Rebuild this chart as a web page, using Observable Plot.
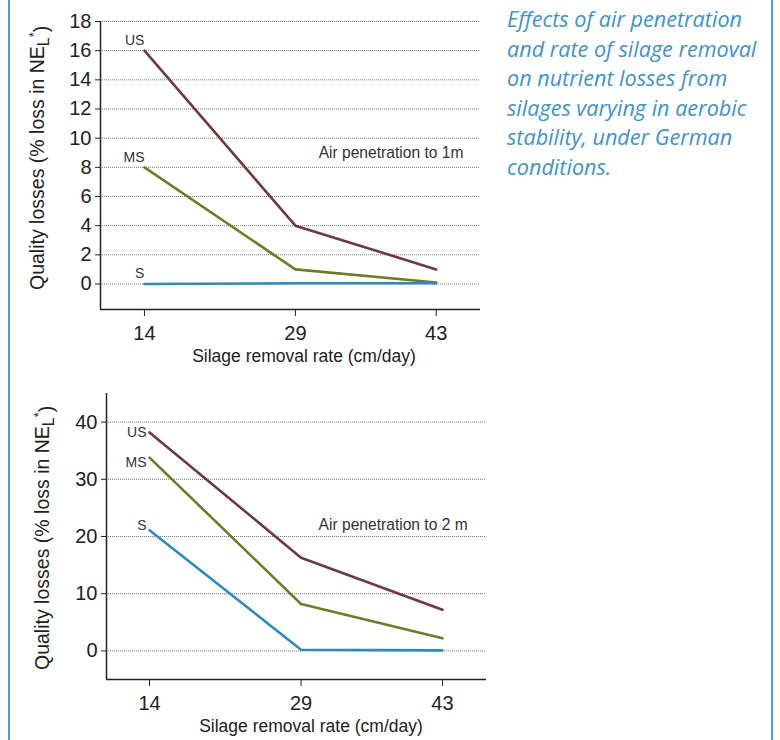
<!DOCTYPE html>
<html><head><meta charset="utf-8">
<script src="https://cdn.jsdelivr.net/npm/d3@7"></script>
<script src="https://cdn.jsdelivr.net/npm/@observablehq/plot@0.6"></script>
<style>
body{margin:0;background:#fff;}
#wrap{position:relative;width:780px;height:740px;overflow:hidden;font-family:"Liberation Sans",Arial,sans-serif;}
.border{position:absolute;top:0;bottom:0;width:2px;background:#4a9fd4;}
#title{position:absolute;left:507px;top:4px;width:266px;font-family:"Open Sans",Lato,sans-serif;font-style:italic;font-size:21.6px;line-height:29.6px;color:#3f93c6;}
#c1{position:absolute;left:0;top:0}
#c2{position:absolute;left:0;top:375px}
</style></head><body>
<div id="wrap">
<div class="border" style="left:8px"></div>
<div class="border" style="left:771px"></div>
<div id="title">Effects of air penetration<br>and rate of silage removal<br>on nutrient losses from<br>silages varying in aerobic<br>stability, under German<br>conditions.</div>
<div id="c1"></div><div id="c2"></div>
</div>
<script>
// ---- data ----
const rates = [14, 29, 43];
const seriesNames = ["US", "MS", "S"];
const seriesColors = ["#6e3a40", "#6c7d27", "#2c8bbd"];
// Air penetration to 1 m
const top_US = [16, 4, 1];
const top_MS = [8, 1, 0.1];
const top_S  = [0, 0.05, 0.05];
const topYTicks = [0, 2, 4, 6, 8, 10, 12, 14, 16, 18];
const topNote = "Air penetration to 1m";
// Air penetration to 2 m
const bot_US = [38.2, 16.3, 7.2];
const bot_MS = [33.8, 8.2, 2.2];
const bot_S  = [21.1, 0.2, 0.1];
const botYTicks = [0, 10, 20, 30, 40];
const botNote = "Air penetration to 2 m";
const xLabel = "Silage removal rate (cm/day)";

function rowsOf(arrs) {
  const rows = [];
  seriesNames.forEach((s, i) => rates.forEach((r, j) => rows.push({series: s, rate: r, value: arrs[i][j]})));
  return rows;
}

function chart(o) {
  const rows = rowsOf(o.values);
  const firsts = rows.filter(d => d.rate === rates[0]);
  const labelMarks = seriesNames.map((s, i) => Plot.text(firsts.filter(d => d.series === s), {
    x: "rate", y: "value", text: "series", textAnchor: "end",
    dx: o.labelDx, dy: o.labelDy[i], fontSize: 14, fill: "#333"
  }));
  const svg = Plot.plot({
    width: o.width, height: o.height,
    marginLeft: o.marginLeft, marginRight: o.width - o.right, marginTop: o.marginTop, marginBottom: o.marginBottom,
    style: {fontFamily: "'Liberation Sans', Arial, sans-serif", fontSize: "20px", color: "#222", background: "transparent"},
    x: {domain: o.xDomain, ticks: rates},
    y: {domain: o.yDomain},
    color: {domain: seriesNames, range: seriesColors},
    marks: [
      Plot.gridY(o.yTicks, {stroke: "#777", strokeOpacity: 1, strokeDasharray: "1,1", strokeWidth: 1}),
      Plot.ruleX([o.xDomain[0]], {stroke: "#222", strokeWidth: 1.5}),
      Plot.ruleY([o.yDomain[0]], {stroke: "#222", strokeWidth: 1.5}),
      Plot.axisY(o.yTicks, {tickSize: 5, tickPadding: 4, fontSize: 20, label: null, stroke: "#222", fill: "#222"}),
      Plot.axisX(rates, {tickSize: 7, tickPadding: 9, fontSize: 20, label: null, stroke: "#222", fill: "#222"}),
      Plot.line(rows, {x: "rate", y: "value", z: "series", stroke: "series", strokeWidth: 2.6}),
      ...labelMarks,
      Plot.text([o.note], {x: o.noteX, y: o.noteY, text: d => d, textAnchor: "end", fontSize: 15.6, fill: "#333"})
    ]
  });
  const s = d3.select(svg);
  s.append("text").attr("x", o.xLabelX).attr("y", o.xLabelY).attr("text-anchor", "middle")
    .attr("font-size", 17.5).attr("fill", "#222").text(xLabel);
  const yl = s.append("text").attr("transform", `translate(${o.yLabelX},${o.yLabelY}) rotate(-90)`)
    .attr("text-anchor", "start").attr("font-size", 19.5).attr("fill", "#222");
  yl.append("tspan").text("Quality losses (% loss in NE");
  yl.append("tspan").attr("dy", "0.3em").attr("font-size", 16).text("L");
  yl.append("tspan").attr("dy", "-0.85em").attr("font-size", 13).text("*");
  yl.append("tspan").attr("dy", "0.55em").text(")");
  return svg;
}

document.getElementById("c1").appendChild(chart({
  values: [top_US, top_MS, top_S], yTicks: topYTicks, note: topNote, noteX: 45.7, noteY: 9,
  width: 500, height: 375, marginLeft: 100, right: 480, marginTop: 21, marginBottom: 66,
  xDomain: [9.63, 47.4], yDomain: [-1.75, 18],
  labelDx: 0, labelDy: [-10, -10, -10],
  xLabelX: 304, xLabelY: 362, yLabelX: 44, yLabelY: 290
}));
document.getElementById("c2").appendChild(chart({
  values: [bot_US, bot_MS, bot_S], yTicks: botYTicks, note: botNote, noteX: 45.5, noteY: 22,
  width: 510, height: 365, marginLeft: 106, right: 486, marginTop: 18, marginBottom: 61,
  xDomain: [9.74, 47.36], yDomain: [-5, 45],
  labelDx: -3, labelDy: [0, 5, -5],
  xLabelX: 311, xLabelY: 357, yLabelX: 49, yLabelY: 295
}));
</script>
</body></html>
